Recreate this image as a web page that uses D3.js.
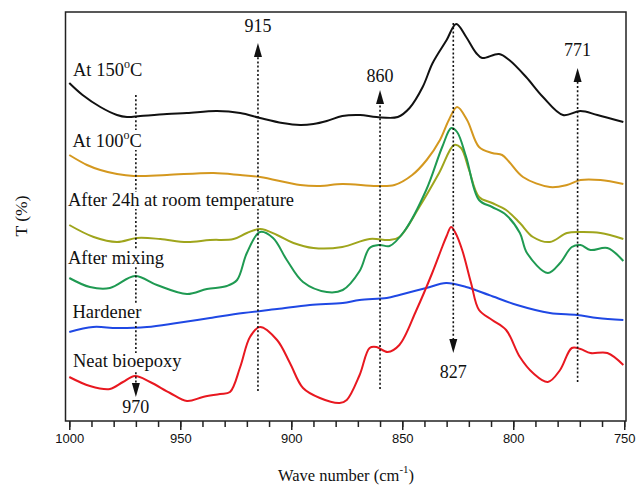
<!DOCTYPE html>
<html>
<head>
<meta charset="utf-8">
<script src="https://cdn.jsdelivr.net/npm/d3@7"></script>
<style>
  body { margin: 0; background: #fff; }
  svg { display: block; }
</style>
</head>
<body>
<svg id="chart" width="637" height="485"></svg>
<script>
// FTIR transmittance spectra, [wave number (cm-1), T (arbitrary offset units)]
const at150 = [[1000,339],[994,327],[986,315],[978.5,307],[974,305],[968,306],[956,308],[947,309],[933.5,311],[923,309],[914,304],[904,299],[896,297],[890,298],[884,301],[877,306],[869,307],[861.6,305],[852,305],[846.7,314],[840.8,335],[836.3,359],[830,382],[825.7,398],[821.2,385],[816.7,369],[814,364],[806.4,368],[801.8,362],[794.2,345],[786.6,325],[777.6,307],[769.7,311],[762.1,307],[750.4,300]];
const at100 = [[1000,267],[992,257],[986,252],[978.5,248],[971,246],[956,247],[935,249],[923,247],[914,245],[896,237],[887,236],[877,238],[861.6,236],[853.5,237],[845.5,247],[839,262],[833,282],[829,302],[825.3,315],[820.8,302],[815.4,275],[809.5,269],[805,267],[801.8,260],[795.6,245],[783.5,235],[775.8,237],[769.7,242],[760.7,242],[750.4,238]];
const after24h = [[1000,197],[989,185],[978.5,180],[969.5,184],[959,183],[947,180],[936.6,182],[926,183],[920,189],[914,193],[906.4,187],[899,179],[890,174],[877,175],[864.7,183],[855.7,182],[851.3,185],[842.3,215],[833.4,249],[826.6,277],[823.5,274],[819.9,252],[815.4,225],[809.5,219],[803.2,212],[797,199],[791.1,185],[783.5,180],[775.8,189],[769.7,190],[760.7,189],[750.4,183]];
const afterMixing = [[1000,144],[990.7,135],[981.7,134],[970.4,146],[960.5,137],[947,128],[938,133],[929,136],[924.4,142],[920,169],[914.1,190],[908.2,184],[902,162],[894.7,140],[884,130],[876.8,132],[869.2,151],[864.7,174],[860.2,177],[855.7,176],[849,191],[839.2,232],[832,275],[827.9,294],[825.3,290],[821.2,265],[815.4,222],[809.5,215],[803.2,207],[797,189],[793.8,169],[784.4,149],[778.9,159],[773.6,175],[769.7,177],[765.2,172],[757.6,174],[750.4,161]];
const hardener = [[1000,90],[989.3,95],[978.5,94],[965,95],[951.5,99],[936.6,104],[921.7,109],[906.4,113],[891.6,117],[876.8,119],[869.2,122],[857,124],[851.3,127],[839.2,134],[830.2,139],[821.2,135],[810.9,127],[798.3,117],[783.5,109],[771.3,107],[762.1,104],[750.4,102]];
const neatBioepoxy = [[1000,45],[990.7,36],[981.7,33],[975.8,40],[970.4,46],[963.6,40],[954.6,29],[947,21],[939.8,25],[932.1,28],[927.6,30],[923,55],[918.6,85],[914.1,95],[906.4,82],[900.6,59],[894.7,34],[887.1,24],[878.2,19],[875,22],[869.2,47],[864.7,74],[861.6,75],[856.6,70],[851.3,77],[843.6,112],[836.5,149],[832,175],[830,186],[828,195],[826,189],[823,172],[819,139],[815.4,112],[809.5,102],[803.2,92],[797,65],[791.1,49],[784.4,40],[778.9,52],[773.6,74],[769.7,73],[765.2,69],[757.6,69],[750.4,57]];

const seriesNames  = ["At 150", "At 100", "After 24h at room temperature", "After mixing", "Hardener", "Neat bioepoxy"];
const seriesData   = [at150, at100, after24h, afterMixing, hardener, neatBioepoxy];
const seriesColors = ["#111111", "#d4981f", "#9fa51c", "#1f9a52", "#1f48e4", "#e81820"];

// Marked bands: wave number, arrow direction, dotted-line extent and label level (T units)
const bandWave  = [970, 915, 860, 827, 771];
const bandDir   = ["down", "up", "up", "down", "up"];
const bandStart = [327, 31, 33, 399, 40];
const bandEnd   = [25, 379, 332, 69, 354];
const bandLabel = [9, 390, 340, 44, 366];

const majorTicks = [1000, 950, 900, 850, 800, 750];

const svg = d3.select("#chart");
const serif = "'Liberation Serif','Times New Roman',Times,serif";
const sans  = "'Liberation Sans',Arial,Helvetica,sans-serif";

const x = d3.scaleLinear().domain([1001.7, 749.2]).range([65.5, 626]);
const y = d3.scaleLinear().domain([1, 410]).range([421, 12]);

// spectra
const line = d3.line().x(d => x(d[0])).y(d => y(d[1])).curve(d3.curveCatmullRom.alpha(0.5));
svg.append("g").selectAll("path").data(seriesData).join("path")
  .attr("d", line)
  .attr("fill", "none")
  .attr("stroke", (d, i) => seriesColors[i])
  .attr("stroke-width", 2)
  .attr("stroke-linejoin", "round");

// dotted band markers with arrowheads
const bands = svg.append("g");
bandWave.forEach((w, i) => {
  const bx = x(w);
  const down = bandDir[i] === "down";
  const tipY = y(bandEnd[i]);
  const baseY = down ? tipY - 14 : tipY + 14;
  bands.append("line")
    .attr("x1", bx).attr("x2", bx)
    .attr("y1", y(bandStart[i])).attr("y2", baseY)
    .attr("stroke", "#111").attr("stroke-width", 1.6)
    .attr("stroke-dasharray", "2,2.2");
  bands.append("path")
    .attr("d", `M${bx},${tipY}L${bx - 4},${baseY}L${bx + 4},${baseY}Z`)
    .attr("fill", "#111");
  bands.append("text")
    .attr("x", bx).attr("y", y(bandLabel[i]))
    .attr("text-anchor", "middle")
    .attr("font-family", serif).attr("font-size", 18)
    .attr("fill", "#111")
    .text(w);
});

// series labels, set on a white backing so the dotted markers pass behind them
const labelPos = [[73, 76], [72.5, 147], [68, 206], [68, 264], [72.5, 318], [73, 367]];
const labels = svg.append("g");
seriesNames.forEach((name, i) => {
  const g = labels.append("g");
  const bg = g.append("rect").attr("fill", "#fff");
  const t = g.append("text")
    .attr("x", labelPos[i][0]).attr("y", labelPos[i][1])
    .attr("font-family", serif).attr("font-size", 18.5)
    .attr("fill", "#111");
  t.append("tspan").text(name);
  if (i < 2) {
    t.append("tspan").attr("font-size", 12).attr("dy", -8).text("o");
    t.append("tspan").attr("dy", 8).text("C");
  }
  const b = t.node().getBBox();
  bg.attr("x", b.x).attr("y", b.y + 2).attr("width", b.width).attr("height", b.height - 3);
});

// frame
svg.append("rect")
  .attr("x", x.range()[0]).attr("y", y.range()[1])
  .attr("width", x.range()[1] - x.range()[0])
  .attr("height", y.range()[0] - y.range()[1])
  .attr("fill", "none").attr("stroke", "#222").attr("stroke-width", 1.5);

// x axis: minor ticks every 10, labelled major ticks every 50
const minorAxis = d3.axisBottom(x).tickValues(d3.range(750, 1001, 10)).tickSize(6).tickFormat("");
const majorAxis = d3.axisBottom(x).tickValues(majorTicks).tickSize(9).tickPadding(4).tickFormat(d3.format("d"));
const gMinor = svg.append("g").attr("transform", `translate(0,${y.range()[0]})`).call(minorAxis);
const gMajor = svg.append("g").attr("transform", `translate(0,${y.range()[0]})`).call(majorAxis);
[gMinor, gMajor].forEach(g => {
  g.select(".domain").remove();
  g.selectAll(".tick line").attr("stroke", "#222").attr("stroke-width", 1.5);
});
gMajor.selectAll(".tick text")
  .attr("font-family", sans).attr("font-size", 13).attr("fill", "#111");

// axis titles
const xt = svg.append("text")
  .attr("x", 346).attr("y", 481)
  .attr("text-anchor", "middle")
  .attr("font-family", serif).attr("font-size", 16.5).attr("fill", "#111");
xt.append("tspan").text("Wave number (cm");
xt.append("tspan").attr("font-size", 11).attr("dy", -8).text("-1");
xt.append("tspan").attr("dy", 8).text(")");

svg.append("text")
  .attr("transform", "translate(27,216) rotate(-90)")
  .attr("text-anchor", "middle")
  .attr("font-family", serif).attr("font-size", 17.5).attr("fill", "#111")
  .text("T (%)");
</script>
</body>
</html>
